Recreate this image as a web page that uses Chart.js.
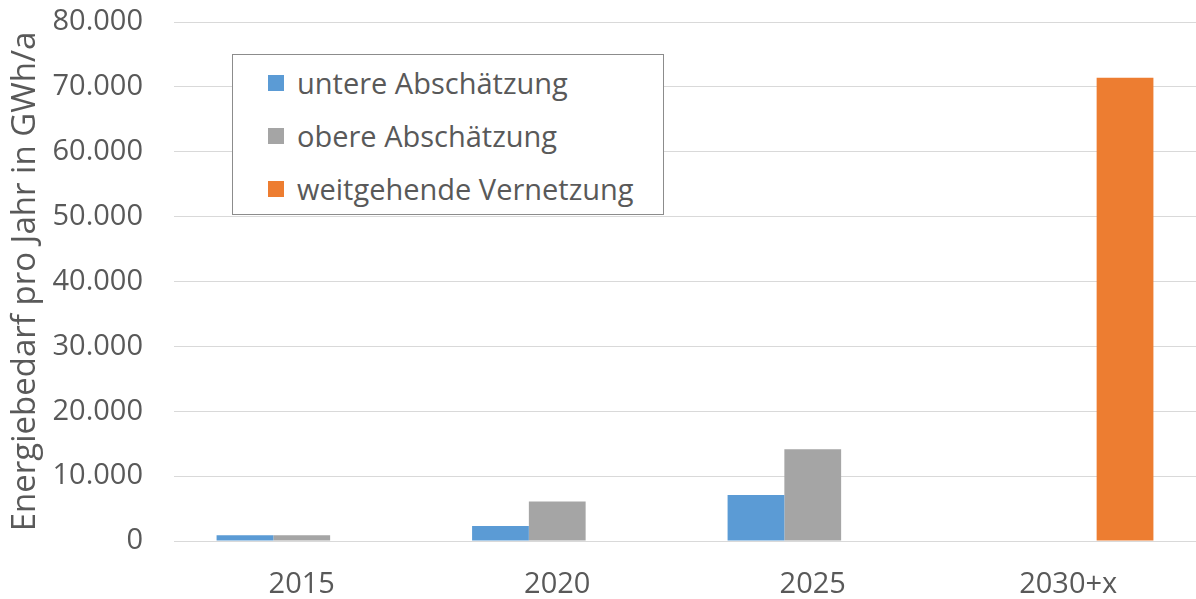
<!DOCTYPE html>
<html>
<head>
<meta charset="utf-8">
<script src="https://cdn.jsdelivr.net/npm/chart.js@4/dist/chart.umd.min.js"></script>
<style>
  html, body { margin: 0; padding: 0; background: #fff; }
  .wrap { position: relative; width: 1196px; height: 599px; }
  #legend {
    position: absolute; left: 232px; top: 54px; width: 432px; height: 161px;
    border: 1px solid #8c8c8c; background: #fff; box-sizing: border-box;
    font-family: "Open Sans", sans-serif; font-size: 29px; color: #595959;
  }
  #legend .item { position: absolute; left: 35px; display: flex; align-items: center; white-space: nowrap; }
  #legend .box { width: 16px; height: 16px; margin-right: 13px; }
</style>
</head>
<body>
<div class="wrap">
  <canvas id="energyChart" width="1196" height="599"></canvas>
  <div id="legend"></div>
</div>
<script>
const categories = ['2015', '2020', '2025', '2030+x'];
const seriesNames = ['untere Abschätzung', 'obere Abschätzung', 'weitgehende Vernetzung'];
const untere = [900, 2300, 7100, null];
const obere = [900, 6100, 14150, null];
const weitgehend = [null, null, null, 71400];
const colors = ['#5b9bd5', '#a5a5a5', '#ed7d31'];
const axisTitle = 'Energiebedarf pro Jahr in GWh/a';

const textColor = '#595959';
const fontFamily = '"Open Sans", sans-serif';

// german thousands separator
const fmt = v => String(v).replace(/\B(?=(\d{3})+(?!\d))/g, '.');

const chart = new Chart(document.getElementById('energyChart'), {
  type: 'bar',
  data: {
    labels: categories,
    datasets: [untere, obere, weitgehend].map((d, i) => ({
      label: seriesNames[i],
      data: d,
      backgroundColor: colors[i],
      categoryPercentage: 2 / 3,
      barPercentage: 1,
    })),
  },
  options: {
    responsive: false,
    animation: false,
    layout: { padding: { top: 22, right: 0, left: 0, bottom: 0 } },
    plugins: {
      legend: { display: false },
      tooltip: { enabled: false },
    },
    scales: {
      x: {
        grid: { display: false, drawTicks: false },
        border: { color: '#d9d9d9', width: 1 },
        ticks: { color: textColor, font: { family: fontFamily, size: 29 }, padding: 26 },
        afterFit: s => { s.height = 58; },
      },
      y: {
        min: 0,
        max: 80000,
        grid: { color: '#d9d9d9', drawTicks: false },
        border: { display: false },
        ticks: {
          stepSize: 10000,
          color: textColor,
          font: { family: fontFamily, size: 29 },
          padding: 31,
          callback: v => fmt(v),
        },
        title: {
          display: true,
          text: axisTitle,
          color: textColor,
          font: { family: fontFamily, size: 33 },
          padding: { top: 6, bottom: 0 },
        },
        afterFit: s => { s.width = 174; s.paddingTop = 0; s.paddingBottom = 0; },
      },
    },
  },
});

// legend box inside the plot, built from the datasets
const legendEl = document.getElementById('legend');
chart.data.datasets.forEach((ds, i) => {
  const item = document.createElement('div');
  item.className = 'item';
  item.style.top = (8 + i * 53) + 'px';
  const box = document.createElement('span');
  box.className = 'box';
  box.style.background = ds.backgroundColor;
  const txt = document.createElement('span');
  txt.textContent = ds.label;
  item.appendChild(box);
  item.appendChild(txt);
  legendEl.appendChild(item);
});
</script>
</body>
</html>
